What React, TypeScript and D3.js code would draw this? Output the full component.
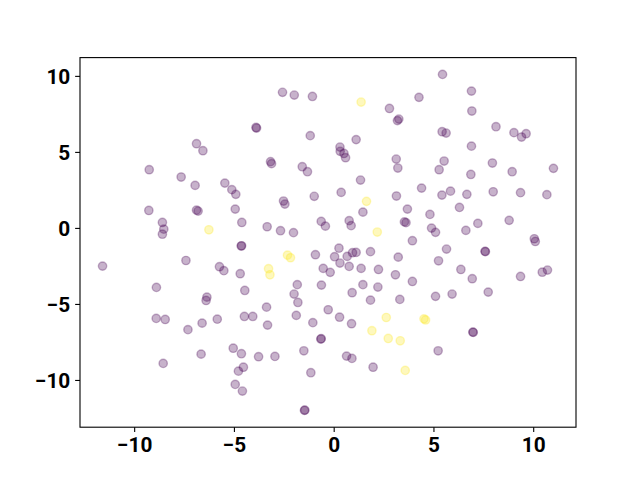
import * as d3 from 'd3'
import React from 'react'

// point coordinates, class 0 = purple, 1 = yellow
const xs = [
  5.43, -2.59, -2.0, -1.09, 4.25, 6.88, 2.77, 6.9, 3.24, 3.17,
  8.11, -3.92, -3.89, 9.01, 9.39, 9.62, 5.41, 5.61, -1.2, 1.1,
  -6.9, -6.58, 6.88, 0.29, 0.3, 0.49, 0.57, 3.11, 5.51, -3.19,
  -3.14, 7.93, -1.6, -1.34, 3.19, 5.26, -9.27, 10.99, 8.92, 6.85,
  -7.67, 1.32, -5.48, -6.97, 4.38, -5.13, -4.93, 0.35, -1.0, 3.12,
  5.4, 5.83, 6.65, 7.97, 9.34, 10.66, -2.54, -2.47, 6.28, 3.67,
  1.44, -9.29, -6.9, -6.82, -4.96, 4.8, 8.77, 7.2, 3.52, 3.6,
  -8.61, -4.63, 0.75, 0.85, -0.65, -0.44, -3.36, -8.54, -8.61, -2.69,
  -2.04, 6.6, 4.88, 5.08, 10.03, 10.08, 3.92, 0.24, -4.66, -4.64,
  5.63, 7.58, 7.56, -0.94, 0.02, 0.65, 0.92, 1.1, 1.82, -7.43,
  3.21, 5.23, 0.29, 0.75, 1.35, 2.22, -0.2, -0.55, -11.61, -5.75,
  -5.53, -4.71, 3.07, 6.35, 9.34, 10.43, 10.69, 6.92, 3.92, -1.85,
  -0.64, 1.44, 2.19, -8.91, -4.48, 0.9, -2.01, -6.38, -6.42, 5.91,
  7.72, 1.82, 3.29, 5.08, -1.82, -3.39, -0.3, 0.27, 0.87, -8.92,
  -8.47, -6.62, -5.86, -4.5, -4.08, -1.9, -3.34, -1.07, -7.33, -0.67,
  -0.65, 6.97, 6.95, -5.06, -4.65, -3.79, -2.97, -1.52, -6.67, 0.62,
  0.89, 5.21, -8.57, -4.8, -4.55, 1.95, -1.17, -4.96, -4.6, -1.49,
  -1.47,
  -6.28, -3.29, -3.22, -2.34, -2.19, 1.35, 1.62, 2.16, 2.61, 4.5,
  4.58, 1.89, 2.71, 3.31, 3.56,
]

const ys = [
  10.13, 8.95, 8.77, 8.68, 8.62, 9.03, 7.89, 7.72, 7.19, 7.09,
  6.69, 6.64, 6.6, 6.3, 6.01, 6.23, 6.36, 6.27, 6.1, 5.84,
  5.57, 5.11, 5.41, 5.35, 5.07, 4.93, 4.65, 4.56, 4.43, 4.39,
  4.26, 4.3, 4.06, 3.73, 3.97, 3.86, 3.86, 3.95, 3.73, 3.55,
  3.38, 3.18, 2.98, 2.83, 2.65, 2.55, 2.24, 2.37, 2.11, 2.13,
  2.19, 2.45, 2.24, 2.41, 2.35, 2.22, 1.8, 1.6, 1.38, 1.27,
  1.07, 1.18, 1.2, 1.14, 1.27, 0.92, 0.53, 0.33, 0.43, 0.38,
  0.39, 0.39, 0.51, 0.18, 0.46, 0.15, 0.11, -0.05, -0.38, -0.15,
  -0.28, -0.13, 0.02, -0.26, -0.68, -0.86, -0.81, -1.3, -1.16, -1.14,
  -1.36, -1.53, -1.51, -1.73, -1.86, -1.84, -1.6, -1.58, -1.53, -2.11,
  -1.89, -2.13, -2.28, -2.5, -2.63, -2.7, -2.89, -2.63, -2.48, -2.52,
  -2.78, -2.98, -3.05, -2.7, -3.16, -2.88, -2.74, -3.31, -3.49, -3.7,
  -3.73, -3.7, -3.86, -3.88, -4.08, -4.23, -4.32, -4.52, -4.74, -4.32,
  -4.19, -4.72, -4.67, -4.47, -4.87, -5.18, -5.35, -5.84, -6.27, -5.92,
  -5.99, -6.23, -5.97, -5.79, -5.79, -5.72, -6.36, -6.2, -6.66, -7.28,
  -7.25, -6.84, -6.82, -7.88, -8.24, -8.44, -8.42, -8.05, -8.27, -8.4,
  -8.55, -8.05, -8.88, -9.39, -9.13, -9.13, -9.49, -10.26, -10.7, -11.97,
  -11.95,
  -0.09, -2.65, -3.05, -1.76, -1.93, 8.31, 1.78, -0.24, -5.86, -5.95,
  -6.02, -6.73, -7.24, -7.39, -9.34,
]

const classes = xs.map((_, i) => (i < 171 ? 0 : 1))

const xTicks = [-10, -5, 0, 5, 10]
const yTicks = [-10, -5, 0, 5, 10]

const W = 640, H = 480
const margin = { left: 80, right: 64, top: 57.6, bottom: 52.8 }

const pad = (ext: [number, number]): [number, number] => {
  const d = (ext[1] - ext[0]) * 0.05
  return [ext[0] - d, ext[1] + d]
}

export default function App() {
  const
    x = d3.scaleLinear().domain(pad(d3.extent(xs) as [number, number])).range([margin.left, W - margin.right]),
    y = d3.scaleLinear().domain(pad(d3.extent(ys) as [number, number])).range([H - margin.bottom, margin.top]),
    color = d3.scaleSequential(d3.interpolateViridis).domain([0, 1]),
    fmt = d3.format('d'),
    tickLen = 4.86, tickPad = 4.86,
    x0 = margin.left, x1 = W - margin.right, y0 = margin.top, y1 = H - margin.bottom

  return (
    <svg width={W} height={H} style={{ position: 'absolute', left: 0, top: 0, background: '#fff' }}
      fontFamily='Roboto, sans-serif' fontWeight='bold' fontSize={20.8}>
      <rect x={0} y={0} width={W} height={H} fill='#fff' />
      <g>
        {xs.map((v, i) => (
          <circle key={i} cx={x(v)} cy={y(ys[i])} r={4.17}
            fill={color(classes[i])} fillOpacity={0.3}
            stroke={color(classes[i])} strokeOpacity={0.3} strokeWidth={1.39} />
        ))}
      </g>
      <rect x={x0} y={y0} width={x1 - x0} height={y1 - y0} fill='none' stroke='#000' strokeWidth={1.1} />
      {xTicks.map(t => (
        <g key={'x' + t} transform={`translate(${x(t)},${y1})`}>
          <line y2={tickLen} stroke='#000' strokeWidth={1.1} />
          <text y={tickLen + tickPad + 15} textAnchor='middle' fill='#000'>{fmt(t)}</text>
        </g>
      ))}
      {yTicks.map(t => (
        <g key={'y' + t} transform={`translate(${x0},${y(t)})`}>
          <line x2={-tickLen} stroke='#000' strokeWidth={1.1} />
          <text x={-tickLen - tickPad} dy='0.36em' textAnchor='end' fill='#000'>{fmt(t)}</text>
        </g>
      ))}
    </svg>
  )
}
